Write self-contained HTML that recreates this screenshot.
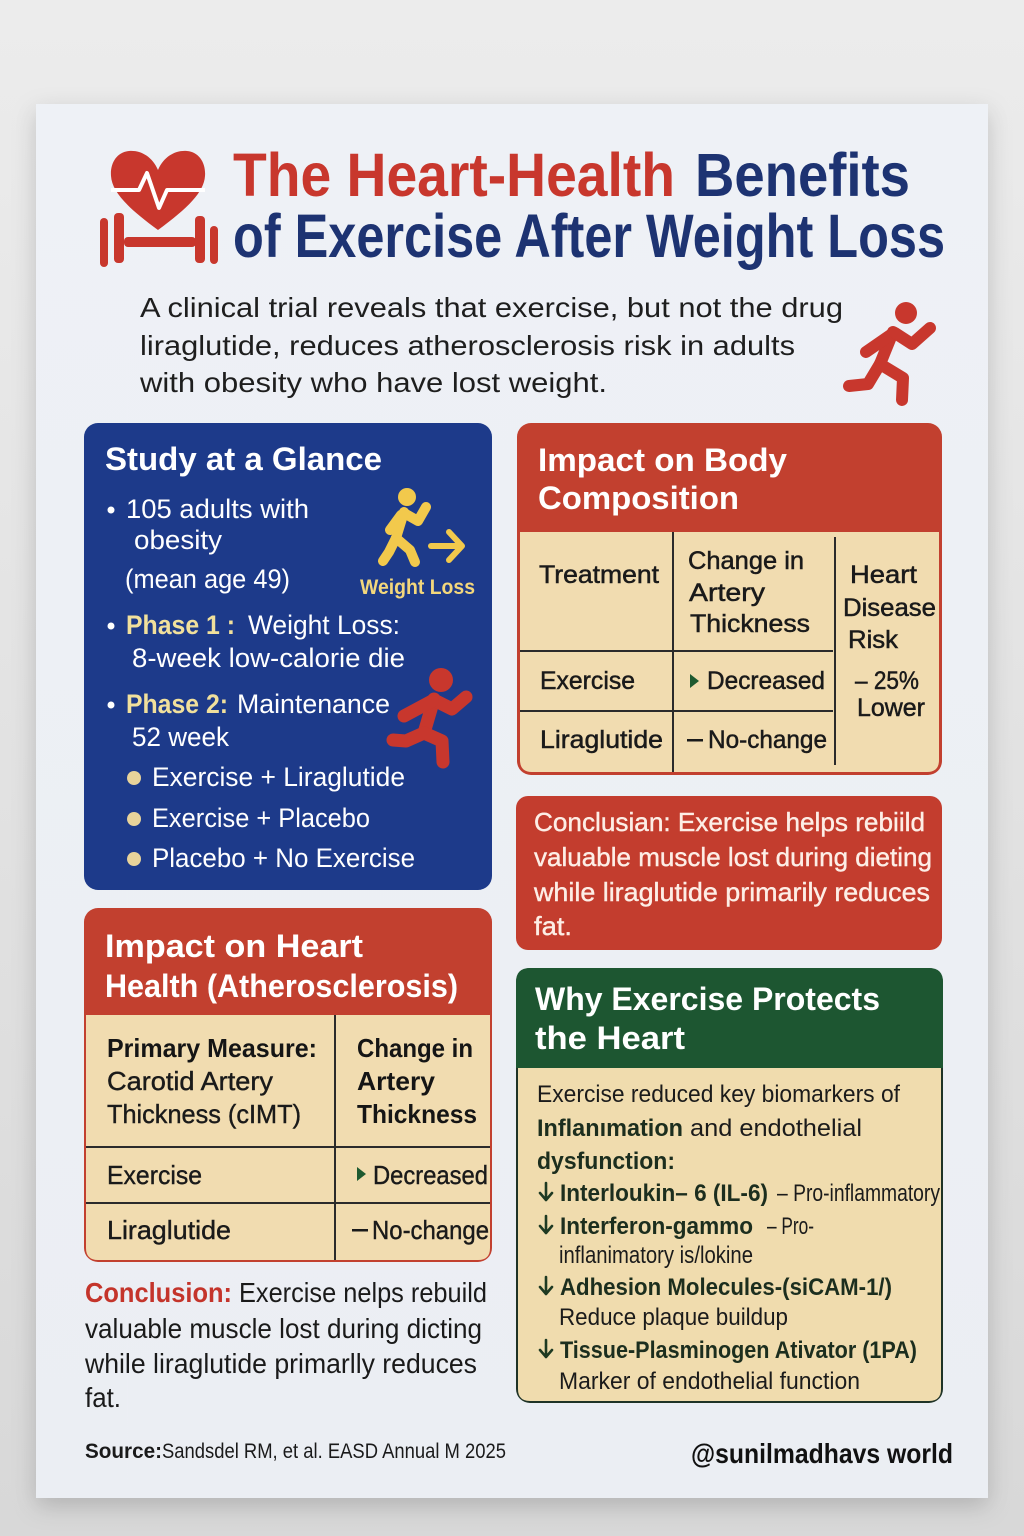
<!DOCTYPE html>
<html><head><meta charset="utf-8"><style>
html,body{margin:0;padding:0;background:#e4e4e4;}
svg{display:block;}
</style></head><body>
<svg width="1024" height="1536" viewBox="0 0 1024 1536" xmlns="http://www.w3.org/2000/svg" font-family="'Liberation Sans', sans-serif">
<defs>
<linearGradient id="bg" x1="0" y1="0" x2="0" y2="1">
<stop offset="0" stop-color="#ececec"/><stop offset="1" stop-color="#d8d8d8"/>
</linearGradient>
<linearGradient id="card" x1="0" y1="0" x2="0" y2="1">
<stop offset="0" stop-color="#eef1f6"/><stop offset="1" stop-color="#ebeef3"/>
</linearGradient>
<filter id="sh" x="-10%" y="-10%" width="120%" height="120%">
<feDropShadow dx="0" dy="8" stdDeviation="12" flood-color="#000" flood-opacity="0.18"/>
</filter>
</defs>
<rect x="0" y="0" width="1024" height="1536" fill="url(#bg)"/>
<rect x="36" y="104" width="952" height="1394" fill="url(#card)" filter="url(#sh)"/>

<!-- Header icon -->
<g fill="#c8372d">
<path d="M158,170 C152,156 140,150 129,151 C117,152 110,163 111,176 C112,192 128,208 158,230 C188,208 204,192 205,176 C206,163 199,152 187,151 C176,150 164,156 158,170 Z"/>
<rect x="124" y="237" width="72" height="10" rx="4"/>
<rect x="100" y="218" width="8" height="49" rx="4"/>
<rect x="114" y="213" width="10" height="50" rx="4"/>
<rect x="195" y="216" width="10" height="47" rx="4"/>
<rect x="210" y="226" width="8" height="38" rx="4"/>
</g>
<polyline points="111,190 139,190 147,173 159,208 167,190 205,190" fill="none" stroke="#fff" stroke-width="4" stroke-linejoin="round"/>

<!-- Title -->
<text x="233" y="196" font-size="61" font-weight="bold" fill="#c8372d" textLength="442" lengthAdjust="spacingAndGlyphs">The Heart-Health</text>
<text x="695" y="196" font-size="61" font-weight="bold" fill="#1d3372" textLength="215" lengthAdjust="spacingAndGlyphs">Benefits</text>
<text x="233" y="257" font-size="61" font-weight="bold" fill="#1d3372" textLength="712" lengthAdjust="spacingAndGlyphs">of Exercise After Weight Loss</text>

<!-- Subtitle -->
<g font-size="28" fill="#1e1e1e">
<text x="140" y="317" textLength="703" lengthAdjust="spacingAndGlyphs">A clinical trial reveals that exercise, but not the drug</text>
<text x="140" y="355" textLength="655" lengthAdjust="spacingAndGlyphs">liraglutide, reduces atherosclerosis risk in adults</text>
<text x="140" y="392" textLength="467" lengthAdjust="spacingAndGlyphs">with obesity who have lost weight.</text>
</g>

<!-- Header runner -->
<g stroke="#c8372d" stroke-width="12" stroke-linecap="round" stroke-linejoin="round" fill="none">
<path d="M893,332 L880,364"/>
<path d="M892,334 L866,352"/>
<path d="M895,333 L912,344 L930,328"/>
<path d="M880,364 L903,378 L902,400"/>
<path d="M880,364 L868,384 L849,386"/>
</g>
<circle cx="906" cy="313" r="11" fill="#c8372d"/>

<!-- Study at a Glance -->
<rect x="84" y="423" width="408" height="467" rx="14" fill="#1d3a8a"/>
<text x="105" y="470" font-size="32" font-weight="bold" fill="#fff" textLength="277" lengthAdjust="spacingAndGlyphs">Study at a Glance</text>
<g fill="#fff" font-size="27">
<circle cx="111" cy="510" r="3.5"/>
<text x="126" y="518" textLength="183" lengthAdjust="spacingAndGlyphs">105 adults with</text>
<text x="134" y="549" textLength="88" lengthAdjust="spacingAndGlyphs">obesity</text>
<text x="125" y="588" textLength="165" lengthAdjust="spacingAndGlyphs">(mean age 49)</text>
<circle cx="111" cy="626" r="3.5"/>
<text x="248" y="634" textLength="152" lengthAdjust="spacingAndGlyphs">Weight Loss:</text>
<text x="132" y="667" textLength="273" lengthAdjust="spacingAndGlyphs">8-week low-calorie die</text>
<circle cx="111" cy="705" r="3.5"/>
<text x="237" y="713" textLength="153" lengthAdjust="spacingAndGlyphs">Maintenance</text>
<text x="132" y="746" textLength="97" lengthAdjust="spacingAndGlyphs">52 week</text>
<text x="152" y="786" textLength="253" lengthAdjust="spacingAndGlyphs">Exercise + Liraglutide</text>
<text x="152" y="827" textLength="218" lengthAdjust="spacingAndGlyphs">Exercise + Placebo</text>
<text x="152" y="867" textLength="263" lengthAdjust="spacingAndGlyphs">Placebo + No Exercise</text>
</g>
<g fill="#f1e09c" font-size="27" font-weight="bold">
<text x="126" y="634" textLength="109" lengthAdjust="spacingAndGlyphs">Phase 1 :</text>
<text x="126" y="713" textLength="102" lengthAdjust="spacingAndGlyphs">Phase 2:</text>
</g>
<g fill="#e8d39a">
<circle cx="134" cy="778" r="7"/>
<circle cx="134" cy="819" r="7"/>
<circle cx="134" cy="859" r="7"/>
</g>
<!-- yellow walker -->
<g stroke="#f2c94c" stroke-width="10" stroke-linecap="round" stroke-linejoin="round" fill="none">
<path d="M404,512 L396,538"/>
<path d="M404,513 L418,521 L426,507"/>
<path d="M401,515 L390,530"/>
<path d="M396,538 L410,550 L415,562"/>
<path d="M396,538 L389,552 L383,561"/>
<path d="M431,546 L460,546" stroke-width="6"/>
<path d="M449,532 L462,546 L449,560" stroke-width="6"/>
</g>
<circle cx="407" cy="497" r="9" fill="#f2c94c"/>
<text x="360" y="594" font-size="21" font-weight="bold" fill="#f3d77c" textLength="115" lengthAdjust="spacingAndGlyphs">Weight Loss</text>
<!-- red runner left -->
<g stroke="#c8372d" stroke-width="13" stroke-linecap="round" stroke-linejoin="round" fill="none">
<path d="M434,699 L424,733"/>
<path d="M436,701 L452,709 L466,697"/>
<path d="M432,701 L404,716"/>
<path d="M424,733 L442,741 L443,762"/>
<path d="M424,733 L406,741 L393,740"/>
</g>
<circle cx="441" cy="680" r="12" fill="#c8372d"/>

<!-- Impact on Body Composition -->
<rect x="517" y="423" width="425" height="352" rx="14" fill="#c2402f"/>
<path d="M520,532 H939 V760 Q939,772 927,772 H532 Q520,772 520,760 Z" fill="#f1dcb0"/>
<text x="538" y="471" font-size="32" font-weight="bold" fill="#fff" textLength="249" lengthAdjust="spacingAndGlyphs">Impact on Body</text>
<text x="538" y="509" font-size="32" font-weight="bold" fill="#fff" textLength="201" lengthAdjust="spacingAndGlyphs">Composition</text>
<g stroke="#2b2b2b" stroke-width="2">
<line x1="673" y1="532" x2="673" y2="772"/>
<line x1="835" y1="537" x2="835" y2="765"/>
<line x1="520" y1="651" x2="833" y2="651"/>
<line x1="520" y1="711" x2="833" y2="711"/>
</g>
<g font-size="25" fill="#1a1a1a" stroke="#1a1a1a" stroke-width="0.5">
<text x="539" y="583" textLength="120" lengthAdjust="spacingAndGlyphs">Treatment</text>
<text x="688" y="569" textLength="116" lengthAdjust="spacingAndGlyphs">Change in</text>
<text x="689" y="601" textLength="76" lengthAdjust="spacingAndGlyphs">Artery</text>
<text x="690" y="632" textLength="120" lengthAdjust="spacingAndGlyphs">Thickness</text>
<text x="850" y="583" textLength="67" lengthAdjust="spacingAndGlyphs">Heart</text>
<text x="843" y="616" textLength="93" lengthAdjust="spacingAndGlyphs">Disease</text>
<text x="848" y="648" textLength="50" lengthAdjust="spacingAndGlyphs">Risk</text>
<text x="540" y="689" textLength="95" lengthAdjust="spacingAndGlyphs">Exercise</text>
<text x="707" y="689" textLength="118" lengthAdjust="spacingAndGlyphs">Decreased</text>
<text x="855" y="689" textLength="64" lengthAdjust="spacingAndGlyphs">– 25%</text>
<text x="857" y="716" textLength="68" lengthAdjust="spacingAndGlyphs">Lower</text>
<text x="540" y="748" textLength="123" lengthAdjust="spacingAndGlyphs">Liraglutide</text>
<text x="708" y="748" textLength="119" lengthAdjust="spacingAndGlyphs">No-change</text>
</g>
<path d="M690,674 L699,681 L690,688 Z" fill="#1e5a30"/>
<rect x="687" y="739" width="16" height="2.5" fill="#1a1a1a"/>

<!-- Conclusian box -->
<rect x="516" y="796" width="426" height="154" rx="12" fill="#c33d2e"/>
<g font-size="26" fill="#fdeee6" stroke="#fdeee6" stroke-width="0.4">
<text x="534" y="831" textLength="391" lengthAdjust="spacingAndGlyphs">Conclusian: Exercise helps rebiild</text>
<text x="534" y="866" textLength="398" lengthAdjust="spacingAndGlyphs">valuable muscle lost during dieting</text>
<text x="534" y="901" textLength="396" lengthAdjust="spacingAndGlyphs">while liraglutide primarily reduces</text>
<text x="534" y="935" textLength="38" lengthAdjust="spacingAndGlyphs">fat.</text>
</g>

<!-- Impact on Heart Health -->
<rect x="84" y="908" width="408" height="354" rx="14" fill="#c2402f"/>
<path d="M86,1015 H490 V1248 Q490,1260 478,1260 H98 Q86,1260 86,1248 Z" fill="#f1dcb0"/>
<text x="105" y="957" font-size="32" font-weight="bold" fill="#fff" textLength="258" lengthAdjust="spacingAndGlyphs">Impact on Heart</text>
<text x="105" y="997" font-size="32" font-weight="bold" fill="#fff" textLength="353" lengthAdjust="spacingAndGlyphs">Health (Atherosclerosis)</text>
<g stroke="#2b2b2b" stroke-width="2">
<line x1="335" y1="1015" x2="335" y2="1260"/>
<line x1="86" y1="1147" x2="490" y2="1147"/>
<line x1="86" y1="1203" x2="490" y2="1203"/>
</g>
<g font-size="26" fill="#151515" font-weight="bold">
<text x="107" y="1057" textLength="210" lengthAdjust="spacingAndGlyphs">Primary Measure:</text>
<text x="357" y="1057" textLength="116" lengthAdjust="spacingAndGlyphs">Change in</text>
<text x="357" y="1090" textLength="78" lengthAdjust="spacingAndGlyphs">Artery</text>
<text x="357" y="1123" textLength="120" lengthAdjust="spacingAndGlyphs">Thickness</text>
</g>
<g font-size="26" fill="#1a1a1a" stroke="#1a1a1a" stroke-width="0.4">
<text x="107" y="1090" textLength="166" lengthAdjust="spacingAndGlyphs">Carotid Artery</text>
<text x="107" y="1123" textLength="194" lengthAdjust="spacingAndGlyphs">Thickness (cIMT)</text>
<text x="107" y="1184" textLength="95" lengthAdjust="spacingAndGlyphs">Exercise</text>
<text x="373" y="1184" textLength="115" lengthAdjust="spacingAndGlyphs">Decreased</text>
<text x="107" y="1239" textLength="124" lengthAdjust="spacingAndGlyphs">Liraglutide</text>
<text x="372" y="1239" textLength="117" lengthAdjust="spacingAndGlyphs">No-change</text>
</g>
<path d="M357,1167 L366,1174 L357,1181 Z" fill="#1e5a30"/>
<rect x="352" y="1229" width="16" height="2.5" fill="#1a1a1a"/>

<!-- Bottom conclusion -->
<text x="85" y="1302" font-size="28" font-weight="bold" fill="#c4342b" textLength="147" lengthAdjust="spacingAndGlyphs">Conclusion:</text>
<g font-size="28" fill="#1a1a1a">
<text x="239" y="1302" textLength="248" lengthAdjust="spacingAndGlyphs">Exercise nelps rebuild</text>
<text x="85" y="1338" textLength="397" lengthAdjust="spacingAndGlyphs">valuable muscle lost during dicting</text>
<text x="85" y="1373" textLength="392" lengthAdjust="spacingAndGlyphs">while liraglutide primarlly reduces</text>
<text x="85" y="1407" textLength="36" lengthAdjust="spacingAndGlyphs">fat.</text>
</g>
<text x="85" y="1458" font-size="21" font-weight="bold" fill="#1a1a1a" textLength="77" lengthAdjust="spacingAndGlyphs">Source:</text>
<text x="162" y="1458" font-size="21" fill="#1a1a1a" textLength="344" lengthAdjust="spacingAndGlyphs">Sandsdel RM, et al. EASD Annual M 2025</text>
<text x="691" y="1463" font-size="28" font-weight="bold" fill="#111" textLength="262" lengthAdjust="spacingAndGlyphs">@sunilmadhavs world</text>

<!-- Why Exercise Protects -->
<rect x="516" y="968" width="427" height="435" rx="14" fill="#1f3326"/>
<path d="M516,1068 V982 Q516,968 530,968 H929 Q943,968 943,982 V1068 Z" fill="#1d5631"/>
<path d="M518,1068 H941 V1389 Q941,1401 929,1401 H530 Q518,1401 518,1389 Z" fill="#f0dcae"/>
<text x="535" y="1010" font-size="32" font-weight="bold" fill="#fff" textLength="345" lengthAdjust="spacingAndGlyphs">Why Exercise Protects</text>
<text x="535" y="1049" font-size="32" font-weight="bold" fill="#fff" textLength="150" lengthAdjust="spacingAndGlyphs">the Heart</text>
<g font-size="24" fill="#1b1b1b">
<text x="537" y="1102" textLength="363" lengthAdjust="spacingAndGlyphs">Exercise reduced key biomarkers of</text>
<text x="690" y="1136" textLength="172" lengthAdjust="spacingAndGlyphs">and endothelial</text>
<text x="777" y="1201" textLength="163" lengthAdjust="spacingAndGlyphs">– Pro-inflammatory</text>
<text x="767" y="1234" textLength="47" lengthAdjust="spacingAndGlyphs">– Pro-</text>
<text x="559" y="1263" textLength="194" lengthAdjust="spacingAndGlyphs">inflanimatory is/lokine</text>
<text x="559" y="1325" textLength="229" lengthAdjust="spacingAndGlyphs">Reduce plaque buildup</text>
<text x="559" y="1389" textLength="301" lengthAdjust="spacingAndGlyphs">Marker of endothelial function</text>
</g>
<g font-size="24" fill="#1c2e1e" font-weight="bold">
<text x="537" y="1136" textLength="146" lengthAdjust="spacingAndGlyphs">Inflanımation</text>
<text x="537" y="1169" textLength="138" lengthAdjust="spacingAndGlyphs">dysfunction:</text>
<text x="560" y="1201" textLength="208" lengthAdjust="spacingAndGlyphs">Interloukin– 6 (IL-6)</text>
<text x="560" y="1234" textLength="193" lengthAdjust="spacingAndGlyphs">Interferon-gammo</text>
<text x="560" y="1295" textLength="332" lengthAdjust="spacingAndGlyphs">Adhesion Molecules-(siCAM-1/)</text>
<text x="560" y="1358" textLength="357" lengthAdjust="spacingAndGlyphs">Tissue-Plasminogen Ativator (1PA)</text>
</g>
<g stroke="#1e3a22" stroke-width="2.6" fill="none" stroke-linecap="round" stroke-linejoin="round">
<path d="M546,1183 V1200 M540,1193 L546,1200 L552,1193"/>
<path d="M546,1216 V1233 M540,1226 L546,1233 L552,1226"/>
<path d="M546,1277 V1294 M540,1287 L546,1294 L552,1287"/>
<path d="M546,1340 V1357 M540,1350 L546,1357 L552,1350"/>
</g>
</svg>
</body></html>
